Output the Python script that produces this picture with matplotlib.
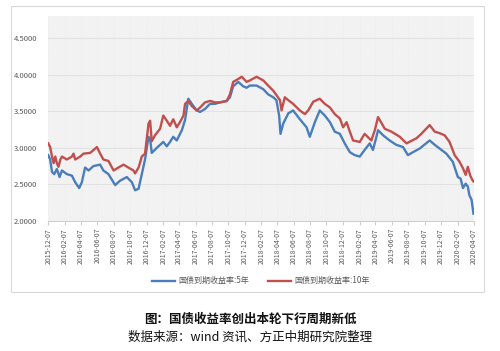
import matplotlib
matplotlib.use("Agg")
import matplotlib.pyplot as plt
from matplotlib.patches import Rectangle
import pandas as pd

plt.rcParams["font.family"] = ["Noto Sans CJK SC", "DejaVu Sans"]

START = "2015-12-07"

# 国债到期收益率:10年  (days after START, yield %)
days_10y = [0, 7, 14, 20, 26, 32, 38, 45, 51, 69, 88, 94, 100, 119, 131, 156, 181,
            193, 205, 224, 243, 261, 280, 298, 317, 323, 336, 348, 360, 373, 379,
            385, 397, 416, 428, 441, 453, 465, 478, 490, 503, 509, 521, 534, 552,
            565, 583, 602, 620, 639, 664, 676, 688, 707, 720, 738, 750, 775, 800,
            818, 837, 849, 862, 868, 880, 893, 911, 936, 955, 967, 986, 1010, 1029,
            1048, 1066, 1085, 1097, 1110, 1122, 1134, 1159, 1177, 1202, 1215, 1227,
            1252, 1277, 1308, 1333, 1370, 1388, 1419, 1438, 1456, 1475, 1493, 1512,
            1530, 1543, 1553, 1561, 1570, 1578, 1582]
yield_10y = [3.06, 3.01, 2.88, 2.79, 2.88, 2.79, 2.74, 2.84, 2.88, 2.84, 2.88, 2.92,
             2.84, 2.88, 2.92, 2.93, 3.01, 2.92, 2.84, 2.82, 2.69, 2.73, 2.77, 2.73,
             2.69, 2.65, 2.73, 2.88, 2.92, 3.33, 3.37, 3.09, 3.17, 3.26, 3.44, 3.37,
             3.30, 3.39, 3.28, 3.35, 3.44, 3.60, 3.64, 3.57, 3.51, 3.55, 3.62, 3.64,
             3.62, 3.62, 3.64, 3.73, 3.90, 3.94, 3.97, 3.90, 3.92, 3.97, 3.92, 3.85,
             3.78, 3.72, 3.65, 3.51, 3.69, 3.65, 3.60, 3.51, 3.46, 3.51, 3.63, 3.67,
             3.60, 3.55, 3.46, 3.40, 3.28, 3.35, 3.22, 3.10, 3.08, 3.19, 3.10, 3.24,
             3.42, 3.26, 3.22, 3.15, 3.06, 3.13, 3.19, 3.31, 3.22, 3.20, 3.17, 3.08,
             2.90, 2.81, 2.72, 2.63, 2.74, 2.62, 2.56, 2.54]

# 国债到期收益率:5年
days_5y = [0, 7, 14, 22, 32, 42, 51, 69, 88, 100, 115, 125, 137, 150, 168, 193, 205,
           224, 249, 267, 292, 311, 323, 336, 348, 360, 373, 379, 385, 404, 428, 441,
           453, 465, 478, 497, 509, 521, 534, 552, 565, 583, 602, 620, 639, 664, 676,
           688, 707, 725, 738, 750, 775, 800, 818, 837, 849, 859, 864, 874, 893, 911,
           936, 961, 973, 992, 1010, 1029, 1048, 1066, 1085, 1103, 1122, 1140, 1159,
           1177, 1196, 1208, 1221, 1227, 1246, 1270, 1295, 1320, 1338, 1357, 1382,
           1419, 1438, 1456, 1481, 1505, 1524, 1534, 1543, 1553, 1561, 1567, 1575, 1582]
yield_5y = [2.90, 2.84, 2.67, 2.64, 2.71, 2.60, 2.69, 2.64, 2.62, 2.53, 2.45, 2.53,
            2.73, 2.69, 2.75, 2.77, 2.69, 2.64, 2.49, 2.55, 2.60, 2.53, 2.42, 2.44,
            2.64, 2.84, 3.15, 3.12, 2.93, 3.00, 3.08, 3.02, 3.08, 3.15, 3.10, 3.24,
            3.38, 3.67, 3.60, 3.51, 3.49, 3.53, 3.60, 3.60, 3.62, 3.64, 3.69, 3.84,
            3.90, 3.84, 3.82, 3.85, 3.85, 3.80, 3.73, 3.69, 3.65, 3.44, 3.19, 3.33,
            3.47, 3.51, 3.39, 3.28, 3.15, 3.35, 3.51, 3.44, 3.35, 3.22, 3.19, 3.06,
            2.94, 2.90, 2.88, 2.97, 3.06, 2.97, 3.15, 3.24, 3.17, 3.10, 3.04, 3.01,
            2.90, 2.94, 2.99, 3.10, 3.04, 2.99, 2.92, 2.81, 2.60, 2.58, 2.45, 2.51,
            2.47, 2.35, 2.29, 2.10]

y_ticks = [2.0, 2.5, 3.0, 3.5, 4.0, 4.5]
tick_dates = [f"{2015 + (11 + 2 * i) // 12}-{(11 + 2 * i) % 12 + 1:02d}-07" for i in range(27)]

BLUE = "#4a7ebb"
RED = "#c0504d"
GRAY = "#595959"

t0 = pd.Timestamp(START)
d10 = t0 + pd.to_timedelta(days_10y, unit="D")
d5 = t0 + pd.to_timedelta(days_5y, unit="D")

fig = plt.figure(figsize=(5.0, 3.51), dpi=100)
fig.patch.set_facecolor("white")

# outer chart frame
fig.add_artist(Rectangle((11 / 500, 1 - 292 / 351), 473 / 500, 286 / 351,
                         transform=fig.transFigure, fill=False,
                         edgecolor="#d9d9d9", linewidth=0.8))

ax = fig.add_axes([48 / 500, 1 - 221 / 351, 426 / 500, 205 / 351])
ax.set_facecolor("#f2f2f2")
ax.plot(d5, yield_5y, color=BLUE, lw=1.7, label="国债到期收益率:5年")
ax.plot(d10, yield_10y, color=RED, lw=1.7, label="国债到期收益率:10年")

ax.set_ylim(2.0, 4.8)
ax.set_yticks(y_ticks)
ax.set_yticklabels([f"{v:.4f}" for v in y_ticks])
ax.set_xlim(pd.Timestamp(tick_dates[0]) - pd.Timedelta(days=1),
            pd.Timestamp(tick_dates[-1]) + pd.Timedelta(days=1))
ax.set_xticks(pd.to_datetime(tick_dates))
ax.set_xticklabels(tick_dates, rotation=90)
ax.grid(axis="y", color="#e2e2e2", lw=0.8)
ax.grid(axis="x", color="#e8e8e8", lw=0.5, ls=":")
ax.set_axisbelow(True)
for s in ["top", "right", "left"]:
    ax.spines[s].set_visible(False)
ax.spines["bottom"].set_color("#d0d0d0")
ax.tick_params(axis="y", length=0, labelsize=5.5, labelcolor=GRAY, pad=8)
ax.tick_params(axis="x", length=3, color="#d0d0d0", labelsize=5, labelcolor=GRAY, pad=2)

ax.legend(loc="upper center", bbox_to_anchor=(0.5, -0.235), ncol=2, frameon=False,
          fontsize=5.8, labelcolor=GRAY, handlelength=2.8, handletextpad=0.4,
          columnspacing=2.4)

fig.text(0.5, 1 - 319 / 351, "图：国债收益率创出本轮下行周期新低", ha="center", va="center",
         fontsize=9, fontweight="bold", color="#111111")
fig.text(0.5, 1 - 337 / 351, "数据来源：wind 资讯、方正中期研究院整理", ha="center", va="center",
         fontsize=9, color="#111111")

fig.savefig("out.png", dpi=100)
